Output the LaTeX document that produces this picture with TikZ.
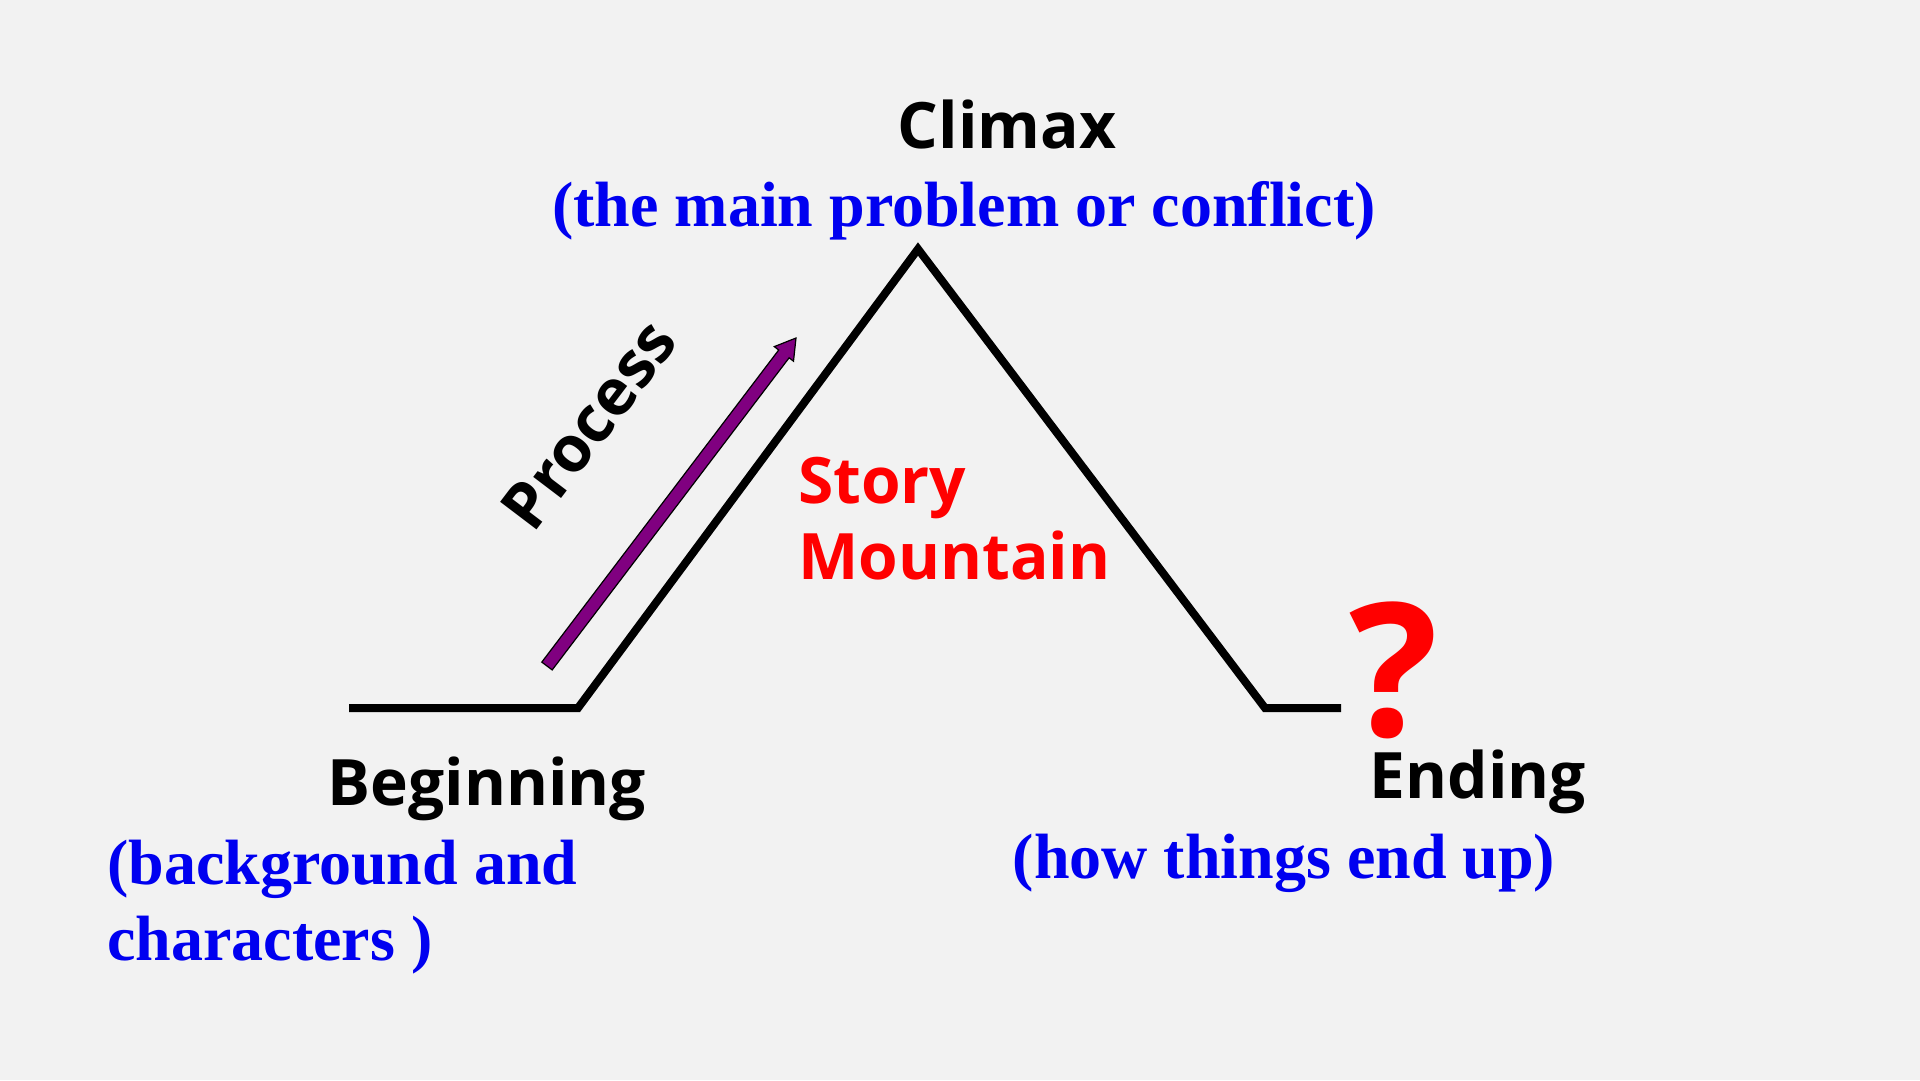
\documentclass[tikz,border=0pt]{standalone}
\usepackage{fontspec}
\setmainfont{Liberation Serif}
\setsansfont{Open Sans}
\definecolor{bgc}{HTML}{F2F2F2}
\definecolor{txtblue}{HTML}{0000F0}
\definecolor{txtred}{HTML}{FF0000}
\definecolor{arrpurple}{HTML}{800080}
\tikzset{
  mountain/.style={line width=8pt, black, line join=miter, line cap=butt},
  headtext/.style={font=\sffamily\bfseries\fontsize{64}{76}\selectfont, text=black, inner sep=0pt},
  redtext/.style={font=\sffamily\bfseries\fontsize{64}{76}\selectfont, text=txtred, inner sep=0pt, align=left},
  bluetext/.style={font=\rmfamily\bfseries\fontsize{64}{76}\selectfont, text=txtblue, inner sep=0pt, align=left},
  arrowshape/.style={fill=arrpurple, draw=black, line width=1.2pt, line join=miter}
}
\begin{document}
\begin{tikzpicture}[x=1pt,y=-1pt]
\fill[bgc] (0,0) rectangle (1920,1080);
\useasboundingbox (0,0) rectangle (1920,1080);
% mountain
\coordinate (b0) at (349,708);
\coordinate (b1) at (578,708);
\coordinate (peak) at (918,249);
\coordinate (e0) at (1265,708);
\coordinate (e1) at (1341,708);
\draw[mountain] (b0) -- (b1) -- (peak) -- (e0) -- (e1);
% purple arrow
\coordinate (atail) at (547,666);
\coordinate (atip) at (796,338);
\draw[arrowshape] (552.2,669.9) -- (789.1,357.8) -- (793.5,361.2) -- (atip) -- (774.3,346.6) -- (778.7,350.0) -- (541.8,662.1) -- cycle;
% texts
\node[headtext, anchor=base] (climax) at (1007,148) {Climax};
\node[bluetext, anchor=base] (climaxsub) at (964,226) {(the main problem or conflict)};
\node[headtext, anchor=center, rotate=52.8] (process) at (589,425) {Process};
\node[redtext, anchor=base west] (story) at (798,503) {Story};
\node[redtext, anchor=base west] (mountainlbl) at (798,579) {Mountain};
\node[headtext, anchor=base] (beginning) at (487,805) {Beginning};
\node[bluetext, anchor=base west] (beginsub1) at (107,884) {(background and};
\node[bluetext, anchor=base west] (beginsub2) at (107,960) {characters )};
\node[headtext, anchor=base] (ending) at (1478,798) {Ending};
\node[bluetext, anchor=base] (endsub) at (1284,878) {(how things end up)};
\node[font=\sffamily\bfseries\fontsize{186}{200}\selectfont, text=txtred, inner sep=0pt, anchor=base] (qmark) at (1394,736) {?};
\end{tikzpicture}
\end{document}
